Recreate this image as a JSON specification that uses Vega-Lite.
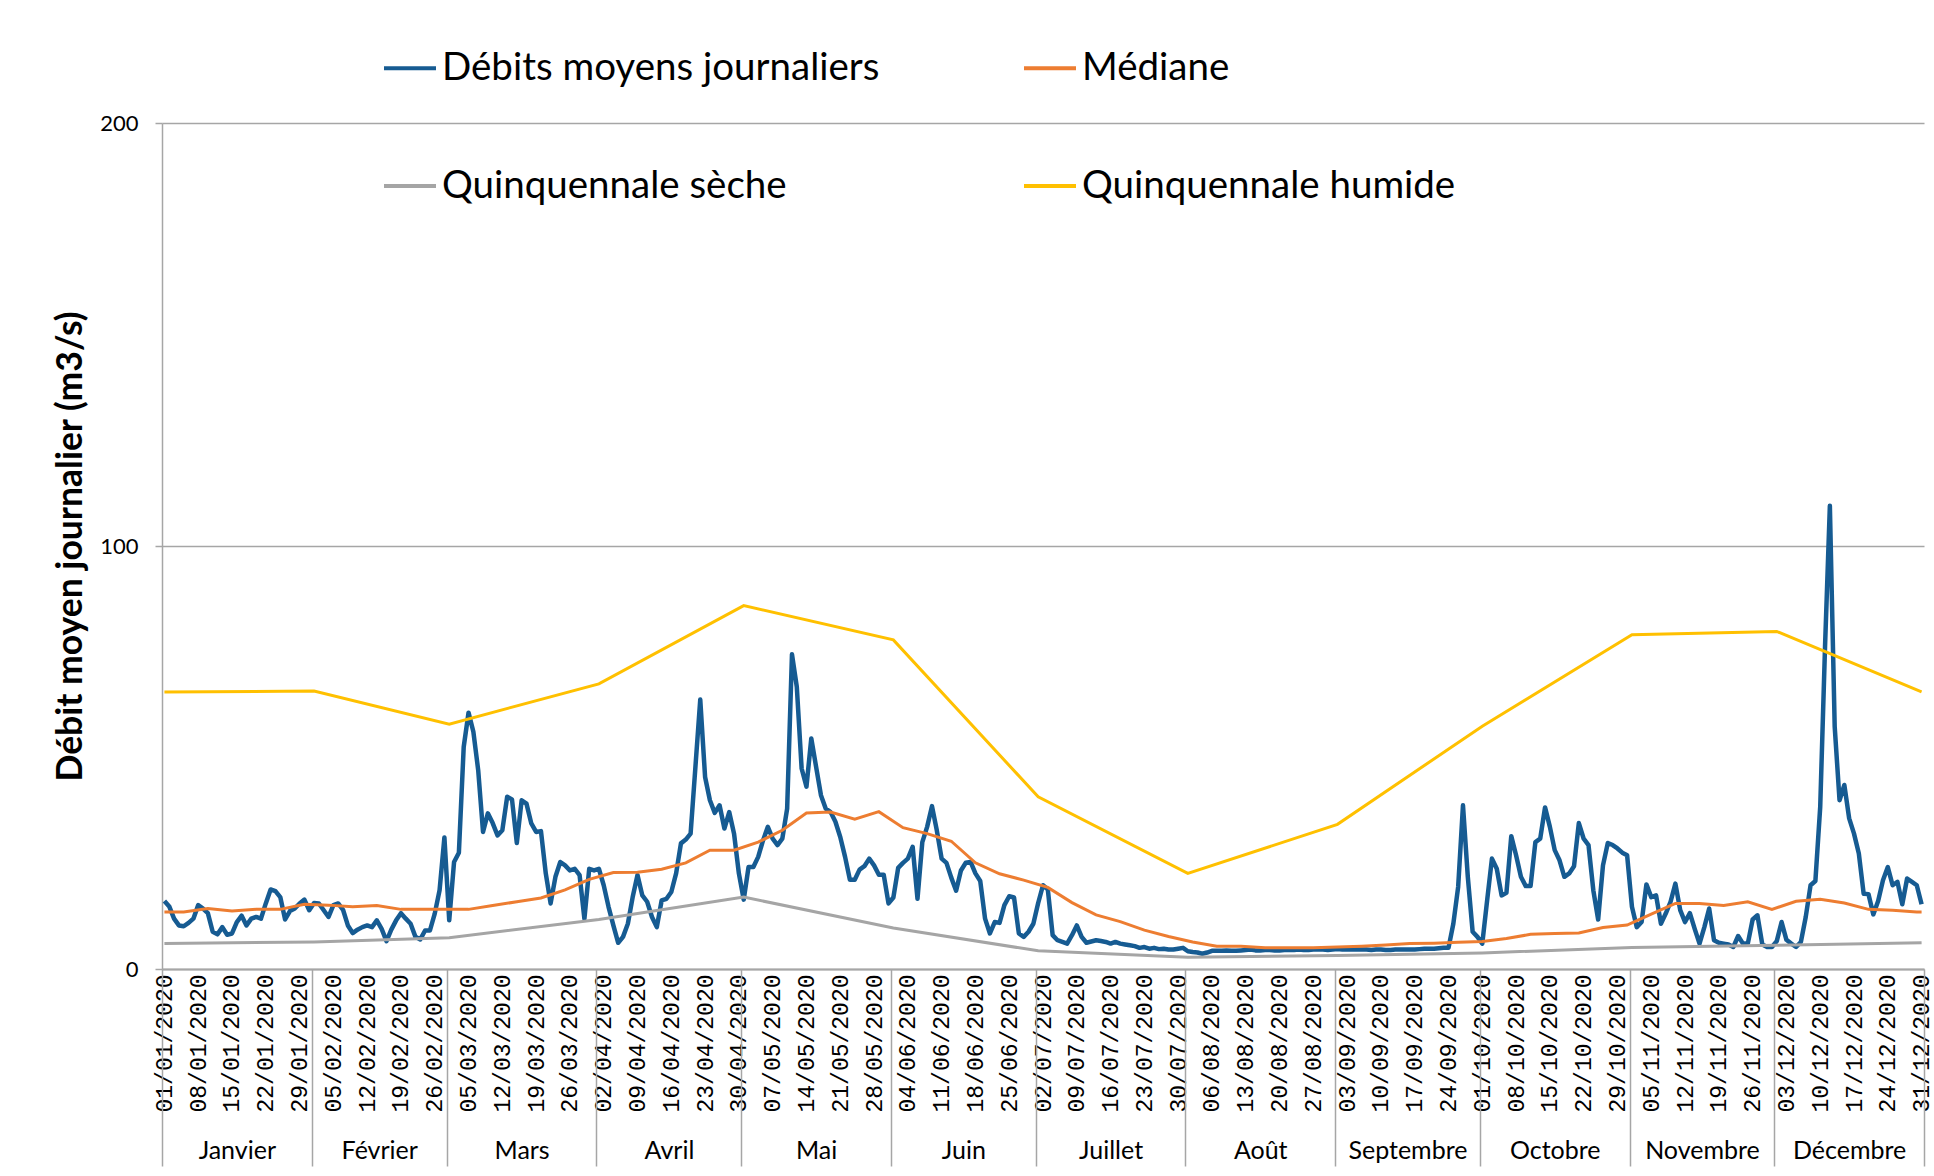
{
  "$schema": "https://vega.github.io/schema/vega-lite/v6.json",
  "width": 1762,
  "height": 846,
  "autosize": {"type": "none"},
  "padding": {"left": 162, "top": 123, "right": 10, "bottom": 207},
  "background": "white",
  "config": {"view": {"stroke": null}, "font": "Lato"},
  "datasets": {
    "debits": [
      {"jour":0,"debit":16.1},{"jour":1,"debit":14.8},{"jour":2,"debit":11.9},{"jour":3,"debit":10.3},{"jour":4,"debit":10.1},{"jour":5,"debit":10.9},{"jour":6,"debit":11.9},{"jour":7,"debit":15.1},{"jour":8,"debit":14.3},{"jour":9,"debit":13.2},
      {"jour":10,"debit":8.8},{"jour":11,"debit":8.2},{"jour":12,"debit":9.9},{"jour":13,"debit":8.1},{"jour":14,"debit":8.4},{"jour":15,"debit":11.1},{"jour":16,"debit":12.6},{"jour":17,"debit":10.3},{"jour":18,"debit":11.9},{"jour":19,"debit":12.3},
      {"jour":20,"debit":11.9},{"jour":21,"debit":15.5},{"jour":22,"debit":18.8},{"jour":23,"debit":18.4},{"jour":24,"debit":17.0},{"jour":25,"debit":11.7},{"jour":26,"debit":13.7},{"jour":27,"debit":14.3},{"jour":28,"debit":15.5},{"jour":29,"debit":16.4},
      {"jour":30,"debit":13.9},{"jour":31,"debit":15.6},{"jour":32,"debit":15.5},{"jour":33,"debit":13.9},{"jour":34,"debit":12.3},{"jour":35,"debit":15.1},{"jour":36,"debit":15.5},{"jour":37,"debit":14.0},{"jour":38,"debit":10.3},{"jour":39,"debit":8.5},
      {"jour":40,"debit":9.3},{"jour":41,"debit":9.9},{"jour":42,"debit":10.3},{"jour":43,"debit":9.9},{"jour":44,"debit":11.5},{"jour":45,"debit":9.5},{"jour":46,"debit":6.6},{"jour":47,"debit":9.3},{"jour":48,"debit":11.5},{"jour":49,"debit":13.2},
      {"jour":50,"debit":11.9},{"jour":51,"debit":10.7},{"jour":52,"debit":7.6},{"jour":53,"debit":7.0},{"jour":54,"debit":9.1},{"jour":55,"debit":9.1},{"jour":56,"debit":13.1},{"jour":57,"debit":18.6},{"jour":58,"debit":31.1},{"jour":59,"debit":11.5},
      {"jour":60,"debit":25.3},{"jour":61,"debit":27.5},{"jour":62,"debit":52.5},{"jour":63,"debit":60.6},{"jour":64,"debit":56.1},{"jour":65,"debit":47.0},{"jour":66,"debit":32.4},{"jour":67,"debit":36.8},{"jour":68,"debit":34.5},{"jour":69,"debit":31.6},
      {"jour":70,"debit":32.8},{"jour":71,"debit":40.7},{"jour":72,"debit":40.1},{"jour":73,"debit":29.8},{"jour":74,"debit":39.9},{"jour":75,"debit":39.1},{"jour":76,"debit":34.4},{"jour":77,"debit":32.4},{"jour":78,"debit":32.6},{"jour":79,"debit":22.6},
      {"jour":80,"debit":15.5},{"jour":81,"debit":21.8},{"jour":82,"debit":25.3},{"jour":83,"debit":24.5},{"jour":84,"debit":23.3},{"jour":85,"debit":23.7},{"jour":86,"debit":22.2},{"jour":87,"debit":11.9},{"jour":88,"debit":23.7},{"jour":89,"debit":23.3},
      {"jour":90,"debit":23.7},{"jour":91,"debit":19.8},{"jour":92,"debit":14.7},{"jour":93,"debit":10.3},{"jour":94,"debit":6.2},{"jour":95,"debit":7.6},{"jour":96,"debit":10.7},{"jour":97,"debit":17.0},{"jour":98,"debit":22.2},{"jour":99,"debit":17.4},
      {"jour":100,"debit":15.9},{"jour":101,"debit":12.3},{"jour":102,"debit":9.9},{"jour":103,"debit":16.2},{"jour":104,"debit":16.6},{"jour":105,"debit":18.2},{"jour":106,"debit":22.6},{"jour":107,"debit":29.7},{"jour":108,"debit":30.6},{"jour":109,"debit":32.0},
      {"jour":110,"debit":47.8},{"jour":111,"debit":63.7},{"jour":112,"debit":45.4},{"jour":113,"debit":39.9},{"jour":114,"debit":36.9},{"jour":115,"debit":38.7},{"jour":116,"debit":33.2},{"jour":117,"debit":37.1},{"jour":118,"debit":32.0},{"jour":119,"debit":22.6},
      {"jour":120,"debit":16.4},{"jour":121,"debit":24.1},{"jour":122,"debit":24.1},{"jour":123,"debit":26.5},{"jour":124,"debit":30.4},{"jour":125,"debit":33.6},{"jour":126,"debit":30.8},{"jour":127,"debit":29.3},{"jour":128,"debit":30.8},{"jour":129,"debit":37.9},
      {"jour":130,"debit":74.4},{"jour":131,"debit":66.7},{"jour":132,"debit":47.4},{"jour":133,"debit":43.1},{"jour":134,"debit":54.5},{"jour":135,"debit":47.8},{"jour":136,"debit":41.1},{"jour":137,"debit":37.9},{"jour":138,"debit":37.1},{"jour":139,"debit":34.8},
      {"jour":140,"debit":31.2},{"jour":141,"debit":26.5},{"jour":142,"debit":21.1},{"jour":143,"debit":21.1},{"jour":144,"debit":23.5},{"jour":145,"debit":24.3},{"jour":146,"debit":26.1},{"jour":147,"debit":24.5},{"jour":148,"debit":22.3},{"jour":149,"debit":22.3},
      {"jour":150,"debit":15.5},{"jour":151,"debit":16.9},{"jour":152,"debit":23.9},{"jour":153,"debit":25.1},{"jour":154,"debit":26.1},{"jour":155,"debit":28.9},{"jour":156,"debit":16.6},{"jour":157,"debit":30.0},{"jour":158,"debit":33.6},{"jour":159,"debit":38.5},
      {"jour":160,"debit":32.8},{"jour":161,"debit":26.1},{"jour":162,"debit":25.1},{"jour":163,"debit":21.6},{"jour":164,"debit":18.5},{"jour":165,"debit":23.3},{"jour":166,"debit":25.1},{"jour":167,"debit":25.3},{"jour":168,"debit":22.6},{"jour":169,"debit":20.8},
      {"jour":170,"debit":11.9},{"jour":171,"debit":8.4},{"jour":172,"debit":11.1},{"jour":173,"debit":10.9},{"jour":174,"debit":15.1},{"jour":175,"debit":17.2},{"jour":176,"debit":16.9},{"jour":177,"debit":8.4},{"jour":178,"debit":7.6},{"jour":179,"debit":8.8},
      {"jour":180,"debit":10.7},{"jour":181,"debit":15.6},{"jour":182,"debit":19.8},{"jour":183,"debit":18.8},{"jour":184,"debit":8.0},{"jour":185,"debit":6.8},{"jour":186,"debit":6.4},{"jour":187,"debit":6.0},{"jour":188,"debit":8.0},{"jour":189,"debit":10.3},
      {"jour":190,"debit":7.6},{"jour":191,"debit":6.2},{"jour":192,"debit":6.5},{"jour":193,"debit":6.8},{"jour":194,"debit":6.6},{"jour":195,"debit":6.4},{"jour":196,"debit":6.0},{"jour":197,"debit":6.4},{"jour":198,"debit":6.0},{"jour":199,"debit":5.8},
      {"jour":200,"debit":5.6},{"jour":201,"debit":5.4},{"jour":202,"debit":5.0},{"jour":203,"debit":5.2},{"jour":204,"debit":4.8},{"jour":205,"debit":5.0},{"jour":206,"debit":4.7},{"jour":207,"debit":4.8},{"jour":208,"debit":4.6},{"jour":209,"debit":4.6},
      {"jour":210,"debit":4.8},{"jour":211,"debit":5.0},{"jour":212,"debit":4.2},{"jour":213,"debit":4.0},{"jour":214,"debit":3.9},{"jour":215,"debit":3.6},{"jour":216,"debit":3.9},{"jour":217,"debit":4.3},{"jour":218,"debit":4.3},{"jour":219,"debit":4.3},
      {"jour":220,"debit":4.4},{"jour":221,"debit":4.3},{"jour":222,"debit":4.3},{"jour":223,"debit":4.4},{"jour":224,"debit":4.5},{"jour":225,"debit":4.6},{"jour":226,"debit":4.4},{"jour":227,"debit":4.4},{"jour":228,"debit":4.5},{"jour":229,"debit":4.5},
      {"jour":230,"debit":4.4},{"jour":231,"debit":4.4},{"jour":232,"debit":4.5},{"jour":233,"debit":4.5},{"jour":234,"debit":4.5},{"jour":235,"debit":4.6},{"jour":236,"debit":4.5},{"jour":237,"debit":4.5},{"jour":238,"debit":4.6},{"jour":239,"debit":4.6},
      {"jour":240,"debit":4.6},{"jour":241,"debit":4.5},{"jour":242,"debit":4.6},{"jour":243,"debit":4.7},{"jour":244,"debit":4.6},{"jour":245,"debit":4.6},{"jour":246,"debit":4.6},{"jour":247,"debit":4.6},{"jour":248,"debit":4.6},{"jour":249,"debit":4.6},
      {"jour":250,"debit":4.5},{"jour":251,"debit":4.6},{"jour":252,"debit":4.6},{"jour":253,"debit":4.5},{"jour":254,"debit":4.5},{"jour":255,"debit":4.6},{"jour":256,"debit":4.6},{"jour":257,"debit":4.6},{"jour":258,"debit":4.6},{"jour":259,"debit":4.6},
      {"jour":260,"debit":4.7},{"jour":261,"debit":4.8},{"jour":262,"debit":4.8},{"jour":263,"debit":4.8},{"jour":264,"debit":4.9},{"jour":265,"debit":5.0},{"jour":266,"debit":5.0},{"jour":267,"debit":10.7},{"jour":268,"debit":19.4},{"jour":269,"debit":38.7},
      {"jour":270,"debit":21.8},{"jour":271,"debit":8.8},{"jour":272,"debit":7.6},{"jour":273,"debit":6.0},{"jour":274,"debit":16.2},{"jour":275,"debit":26.1},{"jour":276,"debit":23.7},{"jour":277,"debit":17.4},{"jour":278,"debit":18.0},{"jour":279,"debit":31.4},
      {"jour":280,"debit":26.9},{"jour":281,"debit":21.8},{"jour":282,"debit":19.6},{"jour":283,"debit":19.6},{"jour":284,"debit":30.0},{"jour":285,"debit":30.8},{"jour":286,"debit":38.2},{"jour":287,"debit":33.6},{"jour":288,"debit":28.1},{"jour":289,"debit":25.7},
      {"jour":290,"debit":21.8},{"jour":291,"debit":22.6},{"jour":292,"debit":24.3},{"jour":293,"debit":34.5},{"jour":294,"debit":30.8},{"jour":295,"debit":29.3},{"jour":296,"debit":18.6},{"jour":297,"debit":11.7},{"jour":298,"debit":24.5},{"jour":299,"debit":29.8},
      {"jour":300,"debit":29.3},{"jour":301,"debit":28.5},{"jour":302,"debit":27.5},{"jour":303,"debit":26.9},{"jour":304,"debit":14.7},{"jour":305,"debit":9.9},{"jour":306,"debit":11.1},{"jour":307,"debit":20.0},{"jour":308,"debit":17.0},{"jour":309,"debit":17.4},
      {"jour":310,"debit":10.7},{"jour":311,"debit":13.1},{"jour":312,"debit":15.9},{"jour":313,"debit":20.2},{"jour":314,"debit":13.9},{"jour":315,"debit":11.1},{"jour":316,"debit":13.2},{"jour":317,"debit":9.5},{"jour":318,"debit":6.0},{"jour":319,"debit":9.9},
      {"jour":320,"debit":14.3},{"jour":321,"debit":6.8},{"jour":322,"debit":6.2},{"jour":323,"debit":6.0},{"jour":324,"debit":5.8},{"jour":325,"debit":5.2},{"jour":326,"debit":7.8},{"jour":327,"debit":6.0},{"jour":328,"debit":6.0},{"jour":329,"debit":11.7},
      {"jour":330,"debit":12.7},{"jour":331,"debit":5.8},{"jour":332,"debit":5.2},{"jour":333,"debit":5.2},{"jour":334,"debit":6.6},{"jour":335,"debit":11.1},{"jour":336,"debit":6.9},{"jour":337,"debit":6.0},{"jour":338,"debit":5.2},{"jour":339,"debit":6.4},
      {"jour":340,"debit":12.3},{"jour":341,"debit":19.8},{"jour":342,"debit":20.8},{"jour":343,"debit":38.3},{"jour":344,"debit":76.2},{"jour":345,"debit":109.5},{"jour":346,"debit":57.3},{"jour":347,"debit":39.9},{"jour":348,"debit":43.5},{"jour":349,"debit":35.6},
      {"jour":350,"debit":32.0},{"jour":351,"debit":27.3},{"jour":352,"debit":17.8},{"jour":353,"debit":17.7},{"jour":354,"debit":12.9},{"jour":355,"debit":16.1},{"jour":356,"debit":21.0},{"jour":357,"debit":24.1},{"jour":358,"debit":19.8},{"jour":359,"debit":20.6},
      {"jour":360,"debit":15.3},{"jour":361,"debit":21.4},{"jour":362,"debit":20.6},{"jour":363,"debit":19.8},{"jour":364,"debit":15.3}
    ],
    "mediane": [
      {"jour":0,"debit":13.5},{"jour":4,"debit":13.5},{"jour":9,"debit":14.3},{"jour":14,"debit":13.7},{"jour":19,"debit":14.1},{"jour":24,"debit":14.1},{"jour":29,"debit":15.3},{"jour":34,"debit":15.1},{"jour":39,"debit":14.7},{"jour":44,"debit":15.0},
      {"jour":49,"debit":14.1},{"jour":54,"debit":14.1},{"jour":58,"debit":14.1},{"jour":63,"debit":14.1},{"jour":68,"debit":15.0},{"jour":73,"debit":15.9},{"jour":78,"debit":16.8},{"jour":83,"debit":18.7},{"jour":88,"debit":21.2},{"jour":93,"debit":22.8},
      {"jour":98,"debit":22.9},{"jour":103,"debit":23.6},{"jour":108,"debit":25.1},{"jour":113,"debit":28.1},{"jour":118,"debit":28.1},{"jour":123,"debit":30.0},{"jour":128,"debit":32.8},{"jour":133,"debit":36.9},{"jour":138,"debit":37.1},{"jour":143,"debit":35.4},
      {"jour":148,"debit":37.2},{"jour":153,"debit":33.4},{"jour":158,"debit":32.0},{"jour":163,"debit":30.2},{"jour":168,"debit":25.1},{"jour":173,"debit":22.5},{"jour":178,"debit":21.0},{"jour":183,"debit":19.3},{"jour":188,"debit":15.7},{"jour":193,"debit":12.8},
      {"jour":198,"debit":11.2},{"jour":203,"debit":9.2},{"jour":208,"debit":7.7},{"jour":213,"debit":6.4},{"jour":218,"debit":5.4},{"jour":223,"debit":5.4},{"jour":228,"debit":5.0},{"jour":233,"debit":5.0},{"jour":238,"debit":5.0},{"jour":243,"debit":5.2},
      {"jour":248,"debit":5.4},{"jour":253,"debit":5.7},{"jour":258,"debit":6.0},{"jour":263,"debit":6.1},{"jour":268,"debit":6.3},{"jour":273,"debit":6.5},{"jour":278,"debit":7.2},{"jour":283,"debit":8.2},{"jour":288,"debit":8.4},{"jour":293,"debit":8.5},
      {"jour":298,"debit":9.8},{"jour":303,"debit":10.4},{"jour":308,"debit":13.0},{"jour":313,"debit":15.5},{"jour":318,"debit":15.5},{"jour":323,"debit":15.0},{"jour":328,"debit":15.9},{"jour":333,"debit":14.1},{"jour":338,"debit":16.0},{"jour":343,"debit":16.5},
      {"jour":348,"debit":15.6},{"jour":353,"debit":14.1},{"jour":358,"debit":13.9},{"jour":363,"debit":13.5},{"jour":364,"debit":13.5}
    ],
    "seche": [
      {"jour":0,"debit":6.0},{"jour":31,"debit":6.4},{"jour":59,"debit":7.4},{"jour":90,"debit":11.7},{"jour":120,"debit":17.0},{"jour":151,"debit":9.7},{"jour":181,"debit":4.3},
      {"jour":212,"debit":2.8},{"jour":243,"debit":3.2},{"jour":273,"debit":3.8},{"jour":304,"debit":5.1},{"jour":334,"debit":5.6},{"jour":364,"debit":6.2}
    ],
    "humide": [
      {"jour":0,"debit":65.5},{"jour":31,"debit":65.7},{"jour":59,"debit":57.9},{"jour":90,"debit":67.4},{"jour":120,"debit":85.9},{"jour":151,"debit":77.8},{"jour":181,"debit":40.7},
      {"jour":212,"debit":22.6},{"jour":243,"debit":34.2},{"jour":273,"debit":57.4},{"jour":304,"debit":79.0},{"jour":334,"debit":79.8},{"jour":364,"debit":65.5}
    ]
  },
  "encoding": {
    "y": {
      "field": "debit", "type": "quantitative",
      "scale": {"domain": [0, 200], "nice": false, "zero": true},
      "axis": {
        "title": "Débit moyen journalier (m3/s)", "titleFont": "Lato", "titleFontWeight": "bold", "titleFontSize": 35.5, "titleColor": "black",
        "titleX": -92, "titleY": 423, "titleAngle": 270, "titleBaseline": "middle", "titleAlign": "center",
        "values": [0, 100, 200], "grid": true, "gridColor": "#a6a6a6", "gridWidth": 1.5,
        "domainColor": "#a6a6a6", "domainWidth": 1.5, "tickColor": "#a6a6a6", "tickSize": 7, "tickWidth": 1.5,
        "labelFont": "Lato", "labelFontSize": 22, "labelColor": "black", "labelPadding": 17
      }
    }
  },
  "layer": [
    {
      "data": {"name": "debits"},
      "mark": {"type": "line", "strokeWidth": 4.5, "strokeJoin": "round"},
      "encoding": {
        "x": {
          "field": "jour", "type": "quantitative",
          "scale": {"domain": [-0.5, 364.5], "nice": false, "zero": false},
          "axis": {
            "orient": "bottom", "title": null,
            "values": [0,7,14,21,28,35,42,49,56,63,70,77,84,91,98,105,112,119,126,133,140,147,154,161,168,175,182,189,196,203,210,217,224,231,238,245,252,259,266,273,280,287,294,301,308,315,322,329,336,343,350,357,364],
            "labelExpr": "timeFormat(datetime(2019, 0, datum.value + 1), '%d/%m/2020')",
            "labelAngle": 270, "labelAlign": "right", "labelBaseline": "middle",
            "labelFont": "Liberation Mono", "labelFontSize": 23, "labelColor": "black", "labelPadding": 5,
            "labelOverlap": false, "labelFlush": false, "labelBound": false,
            "ticks": false, "grid": false, "domain": true, "domainColor": "#a6a6a6", "domainWidth": 2
          }
        },
        "color": {
          "datum": "Débits moyens journaliers",
          "scale": {"domain": ["Débits moyens journaliers", "Quinquennale sèche", "Médiane", "Quinquennale humide"], "range": ["#165b92", "#a5a5a5", "#ed7d31", "#ffc000"]},
          "legend": {"orient": "none", "legendX": 220, "legendY": -83, "columns": 2, "title": null, "symbolType": "stroke", "symbolSize": 2704, "symbolStrokeWidth": 4, "labelFont": "Lato", "labelFontSize": 38.5, "labelColor": "black", "labelOffset": 4, "columnPadding": 136, "rowPadding": 70, "labelLimit": 0, "padding": 0}
        }
      }
    },
    {
      "data": {"name": "mediane"},
      "mark": {"type": "line", "strokeWidth": 3},
      "encoding": {
        "x": {
          "field": "jour", "type": "quantitative",
          "scale": {"domain": [-0.5, 364.5], "nice": false, "zero": false},
          "axis": {
            "orient": "bottom", "title": null,
            "values": [-0.5, 30.5, 58.5, 89.5, 119.5, 150.5, 180.5, 211.5, 242.5, 272.5, 303.5, 333.5, 364.5],
            "labels": false, "domain": false, "grid": false, "ticks": true,
            "tickSize": 197, "tickColor": "#a6a6a6", "tickWidth": 1.5
          }
        },
        "color": {
          "datum": "Médiane",
          "scale": {"domain": ["Débits moyens journaliers", "Quinquennale sèche", "Médiane", "Quinquennale humide"], "range": ["#165b92", "#a5a5a5", "#ed7d31", "#ffc000"]},
          "legend": {"orient": "none", "legendX": 220, "legendY": -83, "columns": 2, "title": null, "symbolType": "stroke", "symbolSize": 2704, "symbolStrokeWidth": 4, "labelFont": "Lato", "labelFontSize": 38.5, "labelColor": "black", "labelOffset": 4, "columnPadding": 136, "rowPadding": 70, "labelLimit": 0, "padding": 0}
        }
      }
    },
    {
      "data": {"name": "seche"},
      "mark": {"type": "line", "strokeWidth": 3},
      "encoding": {
        "x": {
          "field": "jour", "type": "quantitative",
          "scale": {"domain": [-0.5, 364.5], "nice": false, "zero": false},
          "axis": {
            "orient": "bottom", "title": null,
            "values": [15, 44.5, 74, 104.5, 135, 165.5, 196, 227, 257.5, 288, 318.5, 349],
            "labelExpr": "['Janvier','Février','Mars','Avril','Mai','Juin','Juillet','Août','Septembre','Octobre','Novembre','Décembre'][indexof([15, 44.5, 74, 104.5, 135, 165.5, 196, 227, 257.5, 288, 318.5, 349], datum.value)]",
            "labelAngle": 0, "labelAlign": "center", "labelBaseline": "top",
            "labelFont": "Lato", "labelFontSize": 25, "labelColor": "black", "labelPadding": 169,
            "labelOverlap": false, "labelFlush": false, "labelBound": false,
            "ticks": false, "domain": false, "grid": false
          }
        },
        "color": {
          "datum": "Quinquennale sèche",
          "scale": {"domain": ["Débits moyens journaliers", "Quinquennale sèche", "Médiane", "Quinquennale humide"], "range": ["#165b92", "#a5a5a5", "#ed7d31", "#ffc000"]},
          "legend": {"orient": "none", "legendX": 220, "legendY": -83, "columns": 2, "title": null, "symbolType": "stroke", "symbolSize": 2704, "symbolStrokeWidth": 4, "labelFont": "Lato", "labelFontSize": 38.5, "labelColor": "black", "labelOffset": 4, "columnPadding": 136, "rowPadding": 70, "labelLimit": 0, "padding": 0}
        }
      }
    },
    {
      "data": {"name": "humide"},
      "mark": {"type": "line", "strokeWidth": 3},
      "encoding": {
        "x": {
          "field": "jour", "type": "quantitative",
          "scale": {"domain": [-0.5, 364.5], "nice": false, "zero": false},
          "axis": null
        },
        "color": {
          "datum": "Quinquennale humide",
          "scale": {"domain": ["Débits moyens journaliers", "Quinquennale sèche", "Médiane", "Quinquennale humide"], "range": ["#165b92", "#a5a5a5", "#ed7d31", "#ffc000"]},
          "legend": {"orient": "none", "legendX": 220, "legendY": -83, "columns": 2, "title": null, "symbolType": "stroke", "symbolSize": 2704, "symbolStrokeWidth": 4, "labelFont": "Lato", "labelFontSize": 38.5, "labelColor": "black", "labelOffset": 4, "columnPadding": 136, "rowPadding": 70, "labelLimit": 0, "padding": 0}
        }
      }
    }
  ],
  "resolve": {"axis": {"x": "independent"}}
}
